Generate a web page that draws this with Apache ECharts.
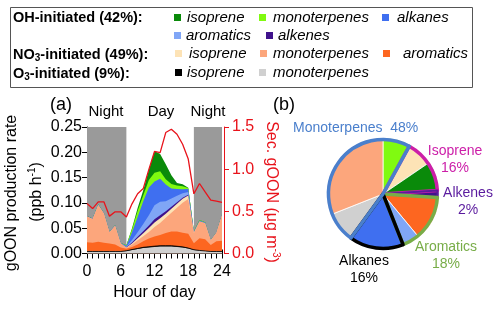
<!DOCTYPE html>
<html>
<head>
<meta charset="utf-8">
<script src="https://cdn.jsdelivr.net/npm/echarts@6/dist/echarts.min.js"></script>
<style>html,body{margin:0;padding:0;background:#fff;}#c{width:500px;height:309px;}</style>
</head>
<body>
<div id="c"></div>
<script>
// ---------- data ----------
const hours = [0,1,2,3,4,5,6,7,8,9,10,11,12,13,14,15,16,17,18,19,20,21,22,23,24];
const o3Mono   = [0.004,0.004,0.004,0.004,0.004,0.004,0.004,0.005,0.007,0.009,0.011,0.012,0.013,0.014,0.014,0.014,0.013,0.012,0.010,0.007,0.006,0.005,0.004,0.004,0.004];
const o3Iso    = [0,0,0,0,0,0,0,0.0003,0.0008,0.001,0.0012,0.0014,0.0015,0.0015,0.0015,0.0015,0.0013,0.0011,0.0008,0.0004,0,0,0,0,0];
const no3Arom  = [0.018,0.017,0.019,0.017,0.016,0.014,0.008,0.004,0.005,0.008,0.012,0.016,0.019,0.021,0.025,0.028,0.029,0.028,0.028,0.013,0.024,0.023,0.013,0.020,0.021];
const no3Mono  = [0.051,0.047,0.073,0.058,0.022,0.037,0.008,0.002,0.005,0.008,0.010,0.013,0.019,0.024,0.030,0.037,0.047,0.059,0.069,0.020,0.033,0.032,0.009,0.017,0.051];
const no3Iso   = [0,0,0,0,0,0,0,0.0005,0.002,0.004,0.006,0.008,0.009,0.009,0.008,0.008,0.008,0.008,0.007,0.001,0,0,0,0,0];
const ohAlkenes= [0,0,0,0,0,0,0,0.0005,0.002,0.003,0.004,0.005,0.006,0.006,0.005,0.004,0.003,0.002,0.0015,0.0003,0,0,0,0,0];
const ohArom   = [0.0003,0.0003,0.0003,0.0003,0.0002,0.0002,0.0002,0.001,0.005,0.009,0.014,0.020,0.028,0.027,0.020,0.016,0.013,0.009,0.005,0.0005,0.0005,0.0003,0.0002,0.0002,0.0003];
const ohAlkanes= [0.0008,0.0008,0.0008,0.0007,0.0006,0.0006,0.0005,0.002,0.015,0.030,0.045,0.055,0.047,0.045,0.033,0.020,0.013,0.008,0.006,0.001,0.0015,0.001,0.0005,0.0005,0.0008];
const ohMono   = [0,0,0,0,0,0,0,0.001,0.006,0.012,0.012,0.015,0.017,0.015,0.010,0.009,0.007,0.006,0.002,0.001,0.001,0.0005,0,0,0];
const ohIso    = [0,0,0,0,0,0,0,0,0.002,0.006,0.010,0.020,0.043,0.034,0.030,0.017,0.005,0.004,0.0005,0,0,0,0,0,0];
const secGOON  = [0.593,0.533,0.613,0.613,0.443,0.494,0.494,0.434,0.589,0.708,0.77,0.998,1.21,1.196,1.434,1.474,1.414,1.295,1.12,0.708,0.83,0.73,0.633,0.62,0.605];
const nightSpans = [[0,7],[19,24]];
const leftTicks = [0, 0.25, 0.05];
const rightTicks = [0, 1.5, 0.5];
const oxidantShares = [42, 49, 9];   // OH, NO3, O3
const pieNames  = ['OH-monoterpenes','O3-isoprene','NO3-isoprene','OH-isoprene','OH-alkenes','NO3-aromatics','OH-aromatics','OH-alkanes','O3-monoterpenes','NO3-monoterpenes'];
const pieValues = [8,0.5,7,8.5,2,13,5,16,9,31];
const groupNames  = ['Isoprene','Alkenes','Aromatics','Alkanes','Monoterpenes'];
const groupValues = [16,2,18,16,48];

// ---------- styles ----------
const C = {
  'OH-isoprene':'#0a8a0a','OH-monoterpenes':'#80fa10','OH-alkanes':'#3f6ff0','OH-aromatics':'#80a6f6','OH-alkenes':'#3f128c',
  'NO3-isoprene':'#fde3b6','NO3-monoterpenes':'#fca67c','NO3-aromatics':'#fd6620',
  'O3-isoprene':'#000000','O3-monoterpenes':'#d0d0d0'
};
const groupColors = {Isoprene:'#cc1ea8',Alkenes:'#5a1a9e',Aromatics:'#78ad48',Alkanes:'#000000',Monoterpenes:'#4a7fcc'};
const RED = '#e8131b';
const FONT = 'Liberation Sans, Arial, sans-serif';

// bottom-to-top order of the stack
const stackDefs = [
  ['O3-monoterpenes', o3Mono],['O3-isoprene', o3Iso],['NO3-aromatics', no3Arom],['NO3-monoterpenes', no3Mono],
  ['NO3-isoprene', no3Iso],['OH-alkenes', ohAlkenes],['OH-aromatics', ohArom],['OH-alkanes', ohAlkanes],
  ['OH-monoterpenes', ohMono],['OH-isoprene', ohIso]
];
// cumulative tops (stacking done here); drawn top layer first so lower layers paint over
const cum = [];
stackDefs.forEach(([name, vals], k) => {
  const prev = k ? cum[k-1].vals : null;
  cum.push({name, vals: vals.map((v,i)=> +(v + (prev ? prev[i] : 0)).toFixed(5))});
});

const series = [];
cum.slice().reverse().forEach((c, k) => {
  const s = {
    name:c.name, type:'line', data:c.vals, showSymbol:false, symbol:'none', z:2,
    lineStyle: c.name==='O3-isoprene' ? {width:0.8,color:'#000'} : {width:0},
    itemStyle:{color:C[c.name]}, areaStyle:{color:C[c.name], opacity:1, origin:'start'}, emphasis:{disabled:true}
  };
  if (k === 0) {
    s.markArea = { silent:true, z:1, itemStyle:{color:'#9a9a9a'},
      data: nightSpans.map(sp => [{xAxis:String(sp[0])},{xAxis:String(sp[1])}]) };
  }
  series.push(s);
});
series.push({
  name:'Sec. gOON', type:'line', yAxisIndex:1, data: secGOON, showSymbol:false, symbol:'none', z:5,
  lineStyle:{color:RED, width:1.3}, itemStyle:{color:RED}
});

// pie
const pieStart = 90;
series.push({
  name:'pieInner', type:'pie', center:[383,194], radius:[0,56], startAngle:pieStart, silent:true,
  label:{show:false}, labelLine:{show:false},
  itemStyle:{borderColor:'#fff', borderWidth:0.8},
  data: pieNames.map((n,i)=>({name:'p_'+n, value:pieValues[i], itemStyle:{color:C[n]}}))
});
series.push({
  name:'pieGroups', type:'pie', center:[383,194], radius:[0,54.5], startAngle: pieStart - pieValues[0]*3.6, silent:true,
  label:{show:false}, labelLine:{show:false}, z:3,
  data: groupNames.map((n,i)=>({name:'g_'+n, value:groupValues[i],
     itemStyle:{color:'rgba(0,0,0,0)', borderColor:groupColors[n], borderWidth: n==='Alkenes'?2:3.5}}))
});

// legends: one per item
const legendSpec = [
  ['OH-isoprene',174,10,1],['OH-monoterpenes',259,10,2],['OH-alkanes',382,10,3],
  ['OH-aromatics',174,28,0],['OH-alkenes',266,28,0],
  ['NO3-isoprene',175,46,2],['NO3-monoterpenes',260,46,1],['NO3-aromatics',383,46,8],
  ['O3-isoprene',175,65,0],['O3-monoterpenes',259,65,2]
];
const legends = legendSpec.map(([n,l,t,p]) => ({
  data:[n], left:l, top:t, padding:0, icon:'rect', itemWidth:7, itemHeight:7, selectedMode:false,
  formatter: name => name.split('-')[1],
  textStyle:{fontFamily:FONT, fontStyle:'italic', fontSize:15, color:'#000', padding:[0,0,0,p]}
}));

const hdrRich = {
  b:{fontFamily:FONT, fontWeight:'bold', fontSize:14.5, fill:'#000'},
  s:{fontFamily:FONT, fontWeight:'bold', fontSize:10, fill:'#000', padding:[7,0,0,0]}
};
function txt(x,y,text,opts){
  return {type:'text', x:x, y:y, silent:true, style:Object.assign({text:text, fontFamily:FONT, fill:'#000', align:'center', verticalAlign:'middle', fontSize:15}, opts||{})};
}
const graphics = [
  {type:'rect', shape:{x:10.5,y:7.5,width:462,height:80}, style:{fill:'none', stroke:'#555', lineWidth:1}, silent:true},
  txt(13,18,'{b|OH-initiated ('+oxidantShares[0]+'%):}',{align:'left', rich:hdrRich}),
  txt(13,55,'{b|NO}{s|3}{b|-initiated ('+oxidantShares[1]+'%):}',{align:'left', rich:hdrRich}),
  txt(13,74,'{b|O}{s|3}{b|-initiated ('+oxidantShares[2]+'%):}',{align:'left', rich:hdrRich}),
  txt(61,105,'(a)',{fontSize:18}),
  txt(284,105,'(b)',{fontSize:18}),
  txt(106,112,'Night',{fontSize:15}),
  txt(161,112,'Day',{fontSize:15}),
  txt(208,112,'Night',{fontSize:15}),
  Object.assign(txt(12,193,'gOON production rate',{fontSize:16}),{rotation:Math.PI/2}),
  Object.assign(txt(37,192,'{a|(ppb h}{u|-1}{a|)}',{rich:{a:{fontFamily:FONT,fontSize:16,fill:'#000'},u:{fontFamily:FONT,fontSize:10,fill:'#000',padding:[0,0,9,0]}}}),{rotation:Math.PI/2}),
  Object.assign(txt(271,192,'{a|Sec. gOON (μg m}{u|-3}{a|)}',{fill:RED, rich:{a:{fontFamily:FONT,fontSize:16,fill:RED},u:{fontFamily:FONT,fontSize:10,fill:RED,padding:[0,0,9,0]}}}),{rotation:-Math.PI/2})
];
// pie group labels
const gl = {
  Monoterpenes:{x:293,y:128,oneLine:true},
  Isoprene:{x:455,y:151}, Alkenes:{x:468,y:193}, Aromatics:{x:446,y:247}, Alkanes:{x:364,y:261}
};
groupNames.forEach((n,i)=>{
  const p = gl[n], col = groupColors[n];
  if (p.oneLine) {
    graphics.push(txt(p.x,p.y,n+'  '+groupValues[i]+'%',{align:'left',fontSize:14,fill:col}));
  } else {
    graphics.push(txt(p.x,p.y,n,{fontSize:14,fill:col}));
    graphics.push(txt(p.x,p.y+17,groupValues[i]+'%',{fontSize:14,fill:col}));
  }
});

const axisLabelStyle = {fontFamily:FONT, fontSize:16, color:'#000'};
const option = {
  animation:false,
  backgroundColor:'#fff',
  legend: legends,
  grid:{left:87, right:278, top:127, bottom:55.5},
  xAxis:[{
    type:'category', data:hours, boundaryGap:false, position:'bottom',
    axisLine:{lineStyle:{color:'#000',width:1}}, axisTick:{interval:0, length:5, lineStyle:{color:'#000'}},
    axisLabel:Object.assign({margin:10, interval:5}, axisLabelStyle),
    splitLine:{show:false},
    name:'Hour of day', nameLocation:'middle', nameGap:31, nameTextStyle:{fontFamily:FONT,fontSize:16,color:'#000'}
  },{
    type:'category', data:hours, boundaryGap:false, position:'top',
    axisLine:{show:true, lineStyle:{color:'#000',width:1}}, axisTick:{show:true, interval:0, length:4, lineStyle:{color:'#000'}},
    axisLabel:{show:false}, splitLine:{show:false}
  }],
  yAxis:[{
    type:'value', min:leftTicks[0], max:leftTicks[1], interval:leftTicks[2], position:'left',
    axisLine:{show:true,lineStyle:{color:'#000'}}, axisTick:{show:true,length:5,lineStyle:{color:'#000'}},
    axisLabel:Object.assign({margin:5, formatter:v=>v.toFixed(2)}, axisLabelStyle),
    splitLine:{show:false}
  },{
    type:'value', min:rightTicks[0], max:rightTicks[1], interval:rightTicks[2], position:'right', offset:2,
    axisLine:{show:true,lineStyle:{color:RED}}, axisTick:{show:true,length:5,lineStyle:{color:RED}},
    axisLabel:{margin:8, formatter:v=>v.toFixed(1), fontFamily:FONT, fontSize:16, color:RED},
    splitLine:{show:false}
  }],
  series: series,
  graphic: graphics
};
const chart = echarts.init(document.getElementById('c'), null, {renderer:'canvas'});
chart.setOption(option);
</script>
</body>
</html>
